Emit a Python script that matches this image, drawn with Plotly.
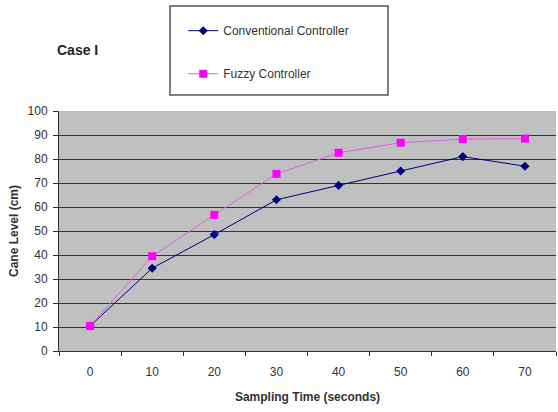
import plotly.graph_objects as go

time_labels = ["0", "10", "20", "30", "40", "50", "60", "70"]
conventional = [10.4, 34.5, 48.5, 63, 69, 75, 81, 77]
fuzzy = [10.4, 39.5, 56.7, 73.8, 82.6, 86.8, 88.3, 88.5]
y_ticks = list(range(0, 101, 10))

font = "Liberation Sans, Arial, sans-serif"

fig = go.Figure()
fig.add_trace(go.Scatter(
    x=time_labels, y=conventional, name="Conventional Controller",
    mode="lines+markers", legendgroup="a",
    line=dict(color="#000080", width=1),
    marker=dict(symbol="diamond", size=7, color="#000080"),
))
fig.add_trace(go.Scatter(
    x=time_labels, y=fuzzy, name="Fuzzy Controller",
    mode="lines+markers", legendgroup="b",
    line=dict(color="#e060e0", width=1),
    marker=dict(symbol="square", size=8, color="#ff00ff"),
))

fig.update_layout(
    width=558, height=412,
    margin=dict(l=59, r=2, t=111, b=61),
    paper_bgcolor="white",
    plot_bgcolor="#c0c0c0",
    font=dict(family=font, size=12, color="#333333"),
    showlegend=True,
    legend=dict(
        x=0.25, y=1.395, xanchor="left", yanchor="top",
        bgcolor="rgba(255,255,255,0)", borderwidth=0,
        traceorder="grouped", tracegroupgap=24,
        font=dict(size=12, color="#333333"),
        itemwidth=30,
    ),
    shapes=[dict(
        type="rect", xref="paper", yref="paper",
        x0=(170 - 59) / 497, x1=(388 - 59) / 497,
        y0=(351 - 95) / 240, y1=(351 - 6) / 240,
        line=dict(color="#555555", width=1.5), fillcolor="rgba(0,0,0,0)",
    )],
    annotations=[
        dict(text="<b>Case I</b>", xref="paper", yref="paper",
             x=(55 - 59) / 497, y=(351 - 50) / 240, xanchor="left", yanchor="middle",
             showarrow=False, font=dict(size=14, color="#222222")),
    ],
    xaxis=dict(
        type="category", range=[-0.5, 7.5],
        showgrid=False, showline=True, linecolor="#333333", linewidth=1,
        ticks="outside", tickson="boundaries", ticklen=4, tickcolor="#333333",
        ticklabelstandoff=10,
        title=dict(text="<b>Sampling Time (seconds)</b>", font=dict(size=12, color="#333333"), standoff=14),
        zeroline=False,
    ),
    yaxis=dict(
        range=[0, 100], tickvals=y_ticks,
        showgrid=True, gridcolor="#333333", gridwidth=1,
        showline=True, linecolor="#333333", linewidth=1,
        ticks="outside", ticklen=5, tickcolor="#333333",
        ticklabelstandoff=3,
        title=dict(text="<b>Cane Level (cm)</b>", font=dict(size=12, color="#333333"), standoff=6),
        zeroline=False,
    ),
)

fig.write_html("out.html")
